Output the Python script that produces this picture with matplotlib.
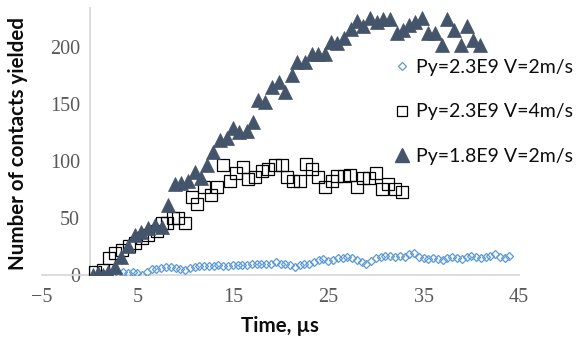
import matplotlib.pyplot as plt
from matplotlib.lines import Line2D

# Py=2.3E9 V=2m/s  (diamonds)
dia_t = [1.0, 1.5, 2.0, 2.5, 3.0, 3.5, 4.0, 4.5, 5.0, 5.5,
         6.0, 6.5, 7.0, 7.5, 8.0, 8.5, 9.0, 9.5, 10.0, 10.5,
         11.0, 11.5, 12.0, 12.5, 13.0, 13.5, 14.0, 14.5, 15.0, 15.5,
         16.0, 16.5, 17.0, 17.5, 18.0, 18.5, 19.0, 19.5, 20.0, 20.5,
         21.0, 21.5, 22.0, 22.5, 23.0, 23.5, 24.0, 24.5, 25.0, 25.5,
         26.0, 26.5, 27.0, 27.5, 28.0, 28.5, 29.0, 29.5, 30.0, 30.5,
         31.0, 31.5, 32.0, 32.5, 33.0, 33.5, 34.0, 34.5, 35.0, 35.5,
         36.0, 36.5, 37.0, 37.5, 38.0, 38.5, 39.0, 39.5, 40.0, 40.5,
         41.0, 41.5, 42.0, 42.5, 43.0, 43.5, 44.0]
dia_n = [0, 1, 1, 2, 2, 3, 2, 3, 2, 0,
         3, 5, 5, 6, 7, 7, 6, 5, 4, 6,
         7, 8, 8, 8, 8, 9, 8, 8, 9, 9,
         9, 9, 10, 10, 10, 10, 10, 11, 10, 10,
         9, 7, 9, 10, 10, 11, 13, 14, 12, 13,
         15, 15, 16, 15, 13, 11, 10, 12, 15, 16,
         17, 17, 16, 17, 16, 18, 19, 16, 15, 14,
         15, 14, 13, 15, 16, 15, 14, 16, 17, 16,
         15, 16, 17, 18, 16, 15, 17]

# Py=2.3E9 V=4m/s  (squares)
sq_t = [0.56, 1.39, 2.02, 2.65, 3.39, 4.12, 4.75, 5.48, 6.11, 7.05,
        7.58, 8.10, 8.73, 9.26, 9.99, 10.72, 11.25, 11.98, 12.71, 13.34,
        13.97, 14.71, 15.34, 16.07, 16.59, 17.33, 18.06, 18.69, 19.42, 20.16,
        20.68, 21.31, 22.04, 22.67, 23.30, 23.93, 24.66, 25.40, 25.92, 26.66,
        27.29, 28.02, 28.65, 29.28, 30.01, 30.64, 31.27, 32.00, 32.74]
sq_n = [3, 4, 15, 19, 22, 25, 28, 32, 35, 39,
        46, 46, 50, 50, 46, 68, 62, 77, 70, 77,
        96, 82, 89, 95, 84, 86, 91, 93, 96, 96,
        86, 82, 82, 97, 93, 86, 77, 82, 87, 87,
        88, 77, 85, 85, 89, 75, 80, 75, 73]

# Py=1.8E9 V=2m/s  (triangles)
tri_t = [0.35, 0.9, 1.4, 1.9, 2.7, 3.3, 4.0, 4.7, 5.4, 6.1,
         6.8, 7.6, 8.2, 8.9, 9.6, 10.3, 11.0, 11.7, 12.3, 12.9,
         13.7, 14.4, 15.0, 15.7, 16.5, 17.1, 17.6, 18.4, 19.1, 19.85,
         20.5, 21.2, 21.7, 22.6, 23.3, 23.9, 24.7, 25.3, 25.9, 26.7,
         27.4, 28.0, 28.6, 29.4, 30.1, 30.7, 31.5, 32.2, 32.8, 33.5,
         34.1, 34.8, 35.5, 36.2, 36.9, 37.5, 38.2, 38.9, 39.5, 40.2,
         40.9]
tri_n = [0, 2, 0, 3, 7, 16, 25, 35, 38, 41,
         44, 42, 61, 80, 81, 82, 90, 85, 96, 108,
         118, 120, 129, 125, 126, 134, 153, 152, 165, 169,
         160, 175, 187, 187, 194, 194, 194, 204, 203, 208,
         216, 223, 218, 225, 222, 224, 224, 212, 215, 219,
         222, 225, 212, 212, 202, 224, 215, 202, 218, 206,
         202]

labels = ["Py=2.3E9 V=2m/s", "Py=2.3E9 V=4m/s", "Py=1.8E9 V=2m/s"]
x_ticks = [-5, 5, 15, 25, 35, 45]
y_ticks = [0, 50, 100, 150, 200]

blue = "#5B9BD5"
slate = "#44546A"
axis_gray = "#D9D9D9"

fig = plt.figure(figsize=(5.81, 3.41), dpi=100)
ax = fig.add_axes([42 / 581, 1 - 275 / 341, 477 / 581, 267 / 341])

ax.plot(dia_t, dia_n, linestyle="none", marker="D", ms=3.8, mfc="none",
        mec=blue, mew=0.9, zorder=3)
ax.plot(sq_t, sq_n, linestyle="none", marker="s", ms=8.5, mfc="none",
        mec="black", mew=0.9, zorder=4)
ax.plot(tri_t, tri_n, linestyle="none", marker="^", ms=10, mfc=slate,
        mec=slate, mew=0.5, zorder=5)

ax.set_xlim(-5, 45)
ax.set_ylim(0, 234)
ax.set_xticks(x_ticks)
ax.set_yticks(y_ticks)
ax.set_xticklabels(["\u22125" if v < 0 else str(v) for v in x_ticks])

for s in ["top", "right"]:
    ax.spines[s].set_visible(False)
ax.spines["left"].set_position(("data", 0))
ax.spines["left"].set_color(axis_gray)
ax.spines["left"].set_linewidth(1.3)
ax.spines["bottom"].set_color(axis_gray)
ax.spines["bottom"].set_linewidth(1.3)

ax.tick_params(axis="both", length=0, labelsize=14.5, labelcolor="#595959")
ax.tick_params(axis="x", pad=9)
ax.tick_params(axis="y", pad=7)
for lab in ax.get_xticklabels() + ax.get_yticklabels():
    lab.set_family("Liberation Serif")

fig.text(18 / 581, 1 - 143 / 341, "Number of contacts yielded", rotation=90,
         ha="center", va="center", fontsize=14.8, fontweight="bold",
         family="Lato", color="#0D0D0D")
fig.text(280 / 581, 1 - 326 / 341, "Time, \u00b5s", ha="center", va="center",
         fontsize=14.8, fontweight="bold", family="Lato", color="#0D0D0D")

handles = [
    Line2D([], [], linestyle="none", marker="D", ms=4, mfc="none", mec=blue, mew=0.9),
    Line2D([], [], linestyle="none", marker="s", ms=7.5, mfc="none", mec="black", mew=0.9),
    Line2D([], [], linestyle="none", marker="^", ms=9.5, mfc=slate, mec=slate),
]
leg = fig.legend(handles, labels, loc="center left",
                 bbox_to_anchor=(384 / 581, 1 - 112 / 341), frameon=False,
                 prop={"family": "Lato", "size": 14}, labelspacing=1.4,
                 handlelength=0.9, handletextpad=0.25, borderpad=0)
for t in leg.get_texts():
    t.set_color("#0D0D0D")

fig.savefig("out.png", dpi=100)
